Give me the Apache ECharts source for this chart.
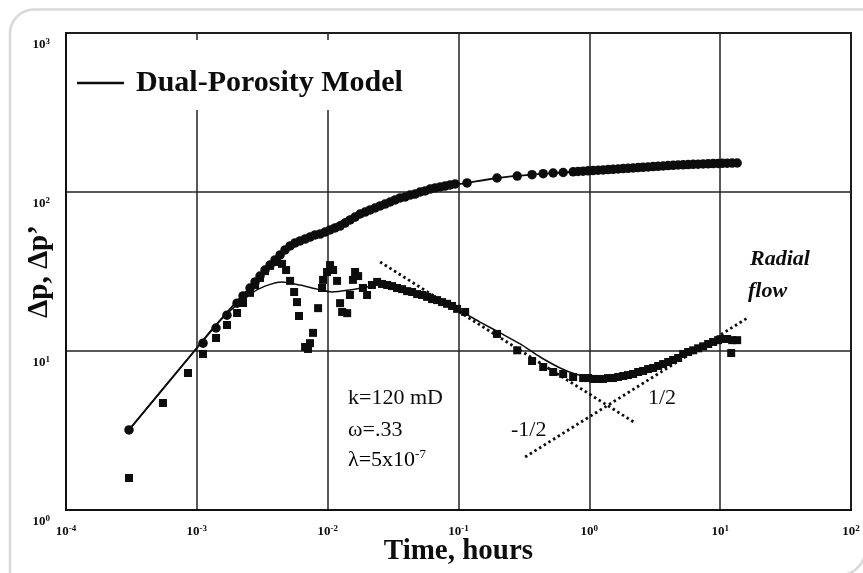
<!DOCTYPE html>
<html><head><meta charset="utf-8">
<script src="https://cdn.jsdelivr.net/npm/echarts/dist/echarts.min.js"></script>
<style>html,body{margin:0;padding:0;background:#fff}#c{width:863px;height:573px}</style>
</head><body><div id="c"></div>
<script>
// ---- data (time in hours, pressure in psi) ----
const pressureTime = [0.000303,0.001115,0.001402,0.0017,0.00203,0.002255,0.00255,0.002786,0.00304,0.00332,0.00363,0.00396,0.00433,0.00472,0.00516,0.00563,0.00615,0.00672,0.00733,0.00801,0.00875,0.00955,0.01043,0.01139,0.01244,0.01358,0.01484,0.0162,0.01769,0.01932,0.0211,0.02304,0.02516,0.02747,0.03,0.03276,0.03577,0.03906,0.04266,0.04658,0.05087,0.05554,0.06066,0.06624,0.07233,0.07899,0.08626,0.09419,0.1163,0.197,0.281,0.365,0.444,0.529,0.631,0.752,0.821,0.897,0.979,1.069,1.168,1.275,1.392,1.521,1.661,1.813,1.98,2.162,2.361,2.578,2.815,3.075,3.357,3.666,4.003,4.373,4.774,5.213,5.693,6.218,6.789,7.413,8.096,8.841,9.654,10.36,11.31,12.35,13.49];
const pressureVal = [3.19,11.2,13.95,16.8,20.0,22.2,24.9,27.2,29.6,32.3,34.7,37.4,40.2,43.2,45.8,47.8,49.2,50.6,52.1,53.7,54.4,56.0,57.7,59.4,61.1,63.8,66.7,69.6,72.7,74.8,77.1,79.3,81.7,84.0,86.5,89.1,91.7,93.0,95.7,97.1,100,101.5,104.4,106,107.5,109,110.7,112.3,114,122.5,126,128.6,130.3,131.7,132.6,134,134.6,135.2,135.8,136.4,137,137.5,138.3,138.9,139.5,140.3,141,141.6,142.4,143,143.7,144.5,145.1,145.7,146.6,147.2,147.9,148.3,148.7,149.2,149.6,150,150.5,150.9,151.3,151.5,151.8,152,152.2];

const derivTime = [0.000303,0.000551,0.000856,0.001115,0.001402,0.0017,0.00203,0.002255,0.00255,0.002786,0.00304,0.00332,0.00363,0.0041,0.00448,0.00481,0.00516,0.00554,0.00583,0.00604,0.00672,0.00708,0.00733,0.00773,0.00845,0.00906,0.00922,0.00989,0.01043,0.011,0.0118,0.01244,0.0129,0.0141,0.0148,0.0156,0.0162,0.0171,0.0186,0.02,0.0218,0.0239,0.026,0.0285,0.0311,0.0339,0.0371,0.0405,0.0442,0.0483,0.0527,0.0575,0.0628,0.0686,0.0749,0.0818,0.0893,0.0976,0.1124,0.197,0.281,0.365,0.444,0.529,0.631,0.752,0.897,0.979,1.069,1.168,1.275,1.392,1.521,1.661,1.813,1.98,2.162,2.361,2.578,2.815,3.075,3.357,3.666,4.003,4.373,4.774,5.213,5.693,6.218,6.789,7.413,8.096,8.841,9.654,10.36,11.31,12.35,13.49,12.14];
const derivVal = [1.59,4.71,7.27,9.58,12.07,14.57,17.34,20.04,23.2,26.0,28.8,31.8,34.3,36.3,35.3,32.3,27.6,23.5,20.3,16.6,10.6,10.3,11.2,13.0,18.6,24.9,28.0,31.4,34.7,32.3,27.6,20.0,17.6,17.3,22.5,28.0,31.4,29.6,24.9,22.5,26.0,27.2,26.4,26.0,25.6,24.9,24.5,23.8,23.5,22.8,22.5,21.9,21.2,20.9,20.3,19.8,19.2,18.4,17.6,12.8,10.1,8.65,7.93,7.38,7.17,6.86,6.76,6.76,6.67,6.67,6.67,6.76,6.76,6.86,6.96,7.06,7.17,7.38,7.49,7.70,7.82,8.05,8.28,8.53,8.78,9.04,9.58,9.86,10.1,10.4,10.7,11.07,11.4,11.7,11.9,11.9,11.7,11.7,9.71];

const modelPTime = [0.000303,0.000986,0.001794,0.002786,0.003824,0.00516,0.00696,0.00989,0.01564,0.02516,0.03577,0.06066,0.1163,0.197,0.365,0.631,1.014,2.915,10.0,13.49];
const modelPVal = [3.19,10.3,18.4,27.2,35.8,45.8,51.4,58.5,71.7,81.7,91.7,104.4,114,122.5,128.6,132.6,136.4,143.7,151.3,152.2];

const modelDTime = [0.000303,0.000986,0.001378,0.001891,0.00255,0.00332,0.00448,0.00615,0.0083,0.0108,0.01484,0.02,0.02516,0.03577,0.06066,0.1029,0.1463,0.208,0.296,0.4207,0.598,0.779,1.014,1.442,2.445,4.146,7.03,10.0];
const modelDVal = [3.19,10.3,14.4,18.6,22.8,25.6,27.2,26.0,24.5,23.5,24.2,25.3,26.4,25.3,21.9,17.9,15.2,13.0,11.07,9.17,7.82,7.17,6.86,6.86,7.49,8.65,10.3,11.7];

const slopeNegTime = [0.02516, 2.24];
const slopeNegVal = [36.3, 3.53];
const slopePosTime = [0.323, 16.09];
const slopePosVal = [2.154, 16.1];

const xExponents = [-4,-3,-2,-1,0,1,2];
const yExponents = [0,1,2,3];

// ---- chart ----
const FONT = "'Liberation Serif','Times New Roman',Times,serif";
const INK = '#0d0d0d';
const pairs = (a, b) => a.map((t, i) => [t, b[i]]);
const supRich = {
  b: {fontFamily: FONT, fontWeight: 'bold', fontSize: 13, color: INK, lineHeight: 16},
  s: {fontFamily: FONT, fontWeight: 'bold', fontSize: 9, color: INK, lineHeight: 8, verticalAlign: 'top'}
};
const expLabel = (v) => '{b|10}{s|' + Math.round(Math.log10(v)) + '}';

const chart = echarts.init(document.getElementById('c'), null, {renderer: 'canvas'});
chart.setOption({
  animation: false,
  backgroundColor: '#fff',
  grid: {left: 66, right: 12, top: 33, bottom: 63, show: true, borderColor: '#111', borderWidth: 2, outerBoundsMode: 'none'},
  legend: {
    data: [{name: 'Dual-Porosity Model', icon: 'rect'}],
    left: 77, top: 61, padding: 0,
    itemWidth: 47, itemHeight: 2.5,
    itemStyle: {color: INK, borderWidth: 0},
    selectedMode: false,
    textStyle: {fontFamily: FONT, fontWeight: 'bold', fontSize: 30, color: INK, lineHeight: 32, padding: [0, 0, 12, 7]}
  },
  xAxis: {
    type: 'log', logBase: 10, min: Math.pow(10, xExponents[0]), max: Math.pow(10, xExponents[xExponents.length - 1]),
    splitNumber: 6,
    name: 'Time, hours', nameLocation: 'middle', nameGap: 27, nameMoveOverlap: false,
    nameTextStyle: {fontFamily: FONT, fontWeight: 'bold', fontSize: 29, color: INK},
    axisLine: {show: true, lineStyle: {color: '#111', width: 2}},
    axisTick: {show: false}, minorTick: {show: false},
    splitLine: {show: true, lineStyle: {color: '#222', width: 1.5}},
    axisLabel: {margin: 14, formatter: expLabel, rich: supRich, showMinLabel: true, showMaxLabel: true}
  },
  yAxis: {
    type: 'log', logBase: 10, min: Math.pow(10, yExponents[0]), max: Math.pow(10, yExponents[yExponents.length - 1]),
    splitNumber: 3,
    name: 'Δp, Δp’', nameLocation: 'middle', nameGap: 12, nameMoveOverlap: false,
    nameTextStyle: {fontFamily: FONT, fontWeight: 'bold', fontSize: 29, color: INK},
    axisLine: {show: true, lineStyle: {color: '#111', width: 2}},
    axisTick: {show: false}, minorTick: {show: false},
    splitLine: {show: true, lineStyle: {color: '#222', width: 1.5}},
    axisLabel: {margin: 16, verticalAlign: 'top', padding: [4, 0, 0, 0], formatter: expLabel, rich: supRich, showMinLabel: true, showMaxLabel: true}
  },
  series: [
    {name: 'Dual-Porosity Model', type: 'line', color: INK, data: pairs(modelPTime, modelPVal), showSymbol: false, symbol: 'none', smooth: 0.25, lineStyle: {color: INK, width: 1.8}, z: 2},
    {name: 'Dual-Porosity Model', type: 'line', color: INK, data: pairs(modelDTime, modelDVal), showSymbol: false, symbol: 'none', smooth: 0.25, lineStyle: {color: INK, width: 1.5}, z: 2},
    {name: 'slope -1/2', type: 'line', data: pairs(slopeNegTime, slopeNegVal), showSymbol: false, symbol: 'none', lineStyle: {color: INK, width: 2.8, type: [2.5, 3]}, z: 2},
    {name: 'slope 1/2', type: 'line', data: pairs(slopePosTime, slopePosVal), showSymbol: false, symbol: 'none', lineStyle: {color: INK, width: 2.8, type: [2.5, 3]}, z: 2},
    {name: 'Δp', type: 'scatter', data: pairs(pressureTime, pressureVal), symbol: 'circle', symbolSize: 9.5, itemStyle: {color: INK, opacity: 1}, z: 3},
    {name: 'Δp’', type: 'scatter', data: pairs(derivTime, derivVal), symbol: 'rect', symbolSize: 8, itemStyle: {color: INK, opacity: 1}, z: 3}
  ],
  graphic: [
    {type: 'rect', silent: true, z: 0, shape: {x: 10, y: 9.5, width: 920, height: 620, r: 24}, style: {fill: 'none', stroke: '#d8d8d8', lineWidth: 2.5}},
    {type: 'arc', silent: true, z: 0, shape: {cx: 840, cy: 550, r: 25, startAngle: 0, endAngle: Math.PI / 2}, style: {fill: 'none', stroke: '#d8d8d8', lineWidth: 2.5}},
    {type: 'rect', silent: true, z: 1, shape: {x: 68, y: 40, width: 362, height: 70}, style: {fill: '#fff'}},
    {type: 'text', z: 5, style: {text: 'k=120 mD', x: 348, y: 398, fontFamily: FONT, fontSize: 22, fill: INK, verticalAlign: 'middle'}},
    {type: 'text', z: 5, style: {text: 'ω=.33', x: 348, y: 430, fontFamily: FONT, fontSize: 22, fill: INK, verticalAlign: 'middle'}},
    {type: 'text', z: 5, style: {text: '{n|λ=5x10}{s|-7}', x: 348, y: 460, verticalAlign: 'middle', rich: {
      n: {fontFamily: FONT, fontSize: 22, color: INK, lineHeight: 24},
      s: {fontFamily: FONT, fontSize: 13, color: INK, lineHeight: 12, verticalAlign: 'top'}}}},
    {type: 'text', z: 5, style: {text: '-1/2', x: 511, y: 430, fontFamily: FONT, fontSize: 22, fill: INK, verticalAlign: 'middle'}},
    {type: 'text', z: 5, style: {text: '1/2', x: 648, y: 398, fontFamily: FONT, fontSize: 22, fill: INK, verticalAlign: 'middle'}},
    {type: 'text', z: 5, style: {text: 'Radial', x: 750, y: 259, fontFamily: FONT, fontSize: 22, fontStyle: 'italic', fontWeight: 'bold', fill: INK, verticalAlign: 'middle'}},
    {type: 'text', z: 5, style: {text: 'flow', x: 748, y: 291, fontFamily: FONT, fontSize: 22, fontStyle: 'italic', fontWeight: 'bold', fill: INK, verticalAlign: 'middle'}}
  ]
});
</script>
</body></html>
